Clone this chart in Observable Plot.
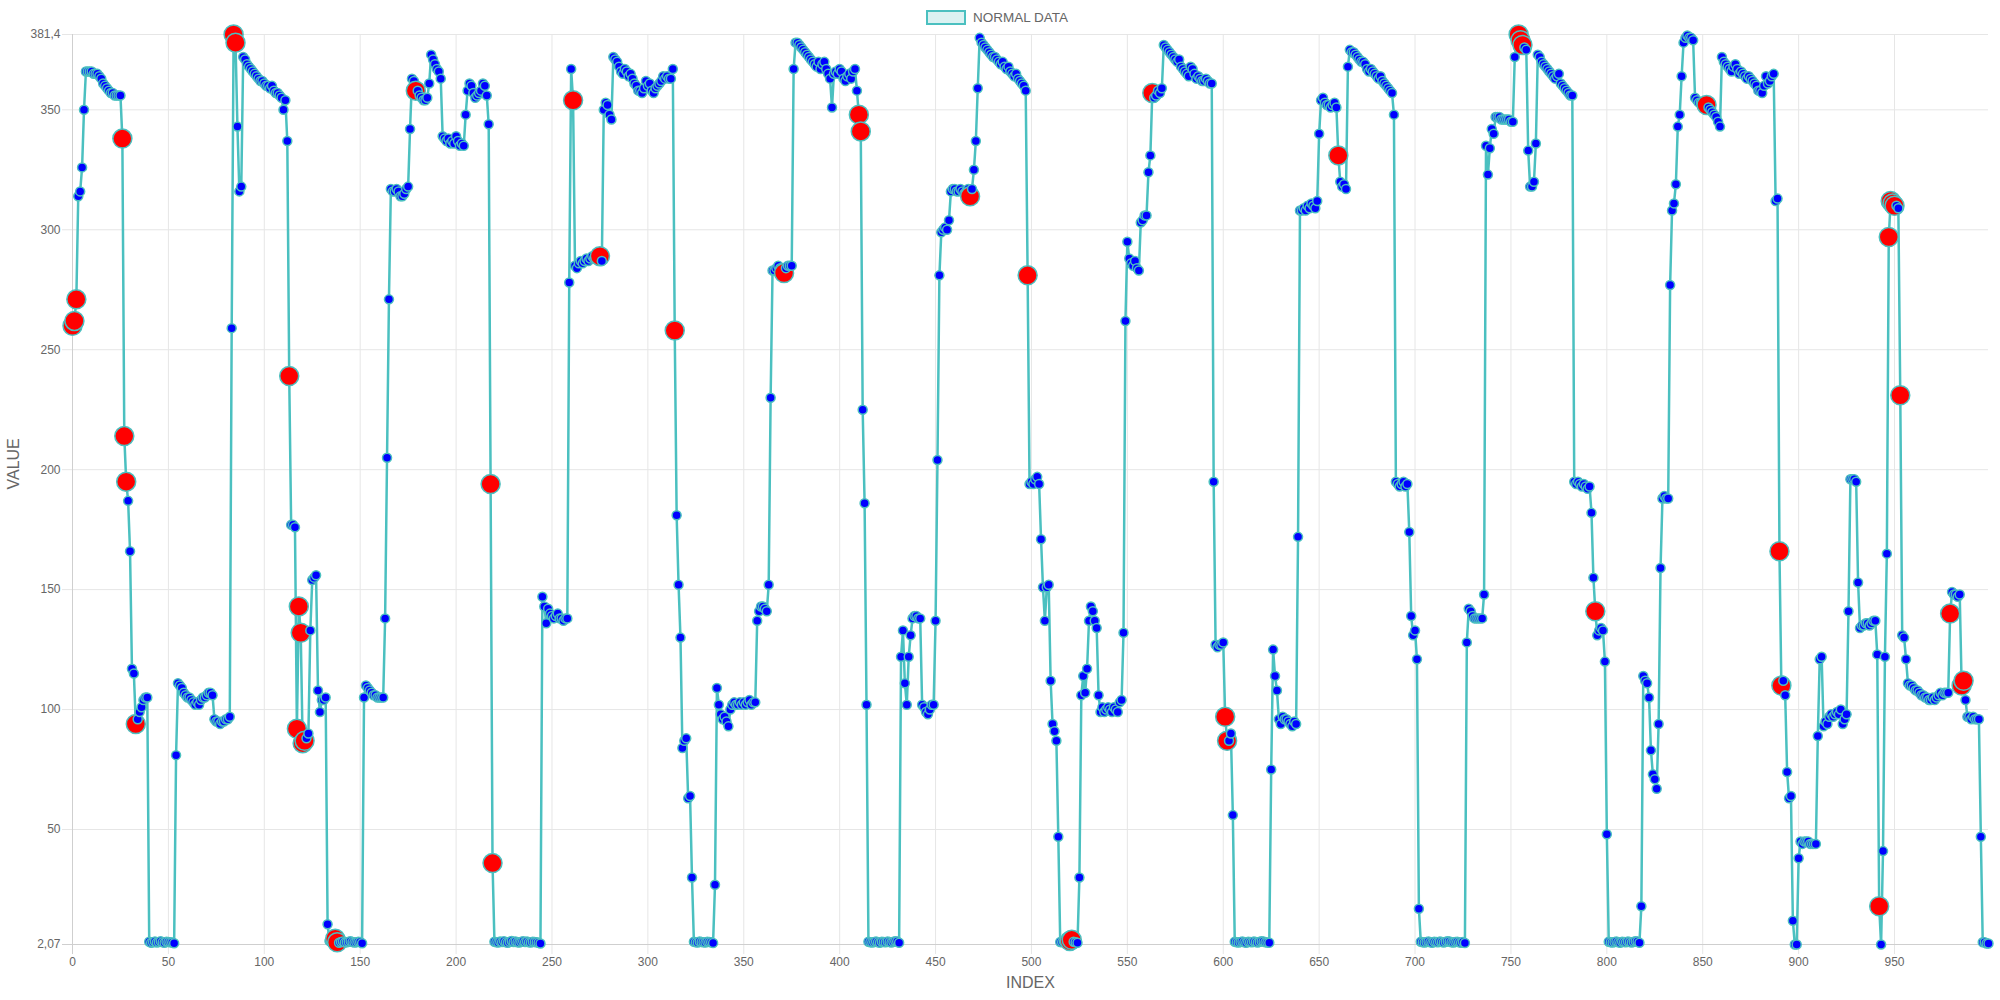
<!DOCTYPE html>
<html>
<head>
<meta charset="utf-8">
<script src="https://cdn.jsdelivr.net/npm/d3@7"></script>
<script src="https://cdn.jsdelivr.net/npm/@observablehq/plot@0.6"></script>
<style>
  html, body { margin: 0; padding: 0; background: #fff; overflow: hidden; }
  #wrap { position: relative; width: 2000px; height: 1000px; font-family: "Liberation Sans", Arial, Helvetica, sans-serif; }
  #legend { position: absolute; left: 926px; top: 9px; height: 16px; display: flex; align-items: center; color: #666; font-size: 13.5px; }
  #legend .box { width: 40px; height: 15px; box-sizing: border-box; border: 2.5px solid rgb(75,192,192); background: rgba(75,192,192,0.2); margin-right: 7px; }
  #chart { position: absolute; left: 0; top: 0; }
</style>
</head>
<body>
<div id="wrap">
  <div id="chart"></div>
  <div id="legend"><div class="box"></div><span>NORMAL DATA</span></div>
</div>
<script>
// ---- data ----
const v000 = [260, 262, 271, 314, 316, 326, 350, 366, 366, 366,
 366, 365, 365, 365, 364, 363, 361, 360, 359, 358,
 357, 357, 356, 356, 356, 356, 338, 214, 195, 187,
 166, 117, 115, 94, 96, 99, 101, 104, 105, 105,
 3.2, 2.8, 3.0, 3.3, 2.9, 3.1, 3.4, 3.0, 2.8, 3.2,
 3.1, 3.0, 2.9, 2.6, 81, 111, 110, 109, 107, 106,
 105, 105, 104, 103, 102, 103, 102, 104, 105, 105,
 106, 107, 107, 106, 96, 95, 95, 94, 95, 95,
 96, 96, 97, 259, 381.4, 378, 343, 316, 318, 372,
 371, 369, 368, 367, 366, 365, 364, 363, 362, 362];
const v100 = [361, 360, 360, 359, 360, 358, 357, 357, 356, 355,
 350, 354, 337, 239, 177, 177, 176, 92, 143, 132,
 86, 87, 88, 90, 133, 154, 155, 156, 108, 99,
 104, 104, 105, 10.5, 3.5, 3.0, 3.2, 4.5, 3.0, 2.8,
 3.1, 3.3, 2.9, 3.0, 3.2, 3.4, 3.1, 2.9, 3.0, 3.2,
 3.1, 2.6, 105, 110, 109, 108, 107, 106, 106, 105,
 105, 105, 105, 138, 205, 271, 317, 316, 316, 317,
 316, 314, 314, 315, 317, 318, 342, 363, 362, 358,
 358, 356, 355, 354, 354, 355, 361, 373, 371, 369,
 367, 366, 363, 339, 338, 337, 338, 336, 337, 336];
const v200 = [339, 337, 335, 336, 335, 348, 358, 361, 360, 357,
 355, 356, 357, 358, 361, 360, 356, 344, 194, 36,
 3.2, 3.0, 2.9, 3.3, 3.1, 3.4, 3.0, 2.8, 3.2, 3.5,
 3.1, 3.3, 3.0, 2.9, 3.2, 3.4, 3.1, 3.3, 3.0, 2.9,
 3.2, 3.1, 3.0, 2.8, 2.5, 147, 143, 136, 142, 140,
 139, 138, 139, 140, 138, 138, 137, 138, 138, 278,
 367, 354, 285, 284, 286, 287, 286, 287, 288, 287,
 288, 289, 288, 288, 289, 289, 287, 350, 353, 352,
 348, 346, 372, 371, 370, 368, 366, 365, 367, 366,
 364, 365, 363, 361, 360, 358, 358, 357, 359, 362];
const v300 = [360, 361, 358, 357, 359, 360, 361, 362, 364, 363,
 364, 363, 363, 367, 258, 181, 152, 130, 84, 87,
 88, 63, 64, 30, 3.2, 3.0, 2.9, 3.3, 3.1, 3.0,
 2.9, 3.2, 3.1, 3.0, 2.7, 27, 109, 102, 98, 96,
 97, 95, 93, 100, 102, 103, 102, 102, 103, 102,
 103, 102, 103, 104, 102, 103, 103, 137, 141, 143,
 143, 142, 141, 152, 230, 283, 283, 284, 285, 284,
 283, 282, 284, 285, 285, 285, 367, 378, 378, 377,
 376, 375, 374, 373, 372, 371, 370, 369, 368, 370,
 367, 369, 370, 367, 365, 363, 351, 365, 366, 365];
const v400 = [367, 366, 363, 362, 364, 365, 363, 366, 367, 358,
 348, 341, 225, 186, 102, 3.2, 3.0, 2.9, 3.1, 3.3,
 3.0, 2.8, 3.2, 3.1, 3.0, 3.3, 3.1, 2.9, 3.2, 3.4,
 3.3, 2.8, 122, 133, 111, 102, 122, 131, 138, 139,
 139, 138, 138, 102, 101, 99, 98, 100, 102, 102,
 137, 204, 281, 299, 300, 301, 300, 304, 316, 317,
 317, 316, 316, 317, 316, 315, 316, 317, 314, 317,
 325, 337, 359, 380, 378, 377, 376, 375, 374, 373,
 372, 372, 371, 370, 369, 370, 368, 367, 368, 366,
 365, 364, 365, 363, 362, 361, 360, 358, 281, 194];
const v500 = [195, 194, 196, 197, 194, 171, 151, 137, 151, 152,
 112, 94, 91, 87, 47, 3.1, 3.0, 3.2, 2.9, 3.1,
 3.5, 4.0, 3.2, 3.0, 2.8, 30, 106, 114, 107, 117,
 137, 143, 141, 137, 134, 106, 99, 101, 99, 100,
 101, 100, 99, 101, 100, 99, 103, 104, 132, 262,
 295, 288, 286, 285, 287, 284, 283, 303, 304, 306,
 306, 324, 331, 357, 355, 356, 358, 357, 359, 377,
 376, 375, 374, 373, 372, 371, 370, 371, 368, 367,
 366, 365, 364, 368, 367, 365, 363, 364, 363, 362,
 362, 363, 362, 361, 361, 195, 127, 126, 127, 127];
const v600 = [128, 97, 87, 87, 90, 56, 3.2, 3.0, 2.9, 3.1,
 3.3, 3.0, 2.8, 3.2, 3.1, 3.0, 3.3, 3.1, 2.9, 3.2,
 3.4, 3.3, 3.0, 2.9, 2.8, 75, 125, 114, 108, 96,
 94, 97, 96, 96, 95, 94, 93, 95, 94, 172,
 308, 308, 309, 308, 310, 309, 311, 310, 309, 312,
 340, 354, 355, 353, 352, 352, 351, 352, 353, 351,
 331, 320, 318, 319, 317, 368, 375, 374, 374, 373,
 372, 371, 370, 370, 369, 367, 366, 367, 366, 365,
 364, 363, 364, 362, 361, 360, 359, 358, 357, 348,
 195, 194, 193, 194, 195, 193, 194, 174, 139, 131];
const v700 = [133, 121, 17, 3.2, 3.0, 2.9, 3.1, 3.3, 3.0, 2.8,
 3.2, 3.1, 3.0, 3.3, 3.1, 2.9, 3.2, 3.4, 3.3, 3.0,
 2.9, 3.1, 3.2, 3.0, 2.8, 3.1, 2.7, 128, 142, 141,
 139, 138, 138, 138, 138, 138, 148, 335, 323, 334,
 342, 340, 347, 347, 347, 346, 346, 346, 346, 346,
 345, 345, 372, 378, 381.4, 379, 377, 376, 375, 333,
 318, 318, 320, 336, 373, 372, 370, 369, 368, 367,
 366, 365, 364, 363, 364, 365, 361, 360, 359, 358,
 357, 356, 356, 195, 194, 195, 194, 193, 194, 193,
 192, 193, 182, 155, 141, 131, 133, 134, 133, 120];
const v800 = [48, 3.2, 3.0, 2.9, 3.1, 3.3, 3.0, 2.8, 3.2, 3.1,
 3.0, 3.3, 3.1, 2.9, 3.2, 3.4, 3.3, 2.8, 18, 114,
 112, 111, 105, 83, 73, 71, 67, 94, 159, 188,
 189, 188, 188, 277, 308, 311, 319, 343, 348, 364,
 378, 380, 381, 380, 380, 379, 355, 354, 353, 353,
 352, 352, 352, 351, 350, 349, 348, 347, 345, 343,
 372, 370, 369, 368, 367, 366, 368, 369, 367, 365,
 366, 365, 364, 363, 364, 363, 362, 361, 360, 358,
 358, 357, 360, 364, 361, 362, 364, 365, 312, 313,
 166, 110, 112, 106, 74, 63, 64, 12, 2.07, 2.07];
const v900 = [38, 45, 44, 45, 45, 45, 44, 44, 44, 44,
 89, 121, 122, 93, 95, 94, 97, 98, 97, 98,
 99, 98, 100, 94, 96, 98, 141, 196, 196, 196,
 195, 153, 134, 135, 135, 136, 136, 135, 136, 137,
 137, 123, 18, 2.07, 41, 122, 165, 297, 312, 311,
 310, 310, 309, 231, 131, 130, 121, 111, 110, 110,
 109, 108, 108, 107, 106, 106, 105, 105, 104, 104,
 105, 104, 105, 106, 107, 106, 107, 107, 107, 140,
 149, 148, 148, 147, 148, 110, 112, 104, 97, 97,
 96, 97, 96, 96, 96, 47, 3, 3, 2.5, 2.5];

const anomalyIndex = [0,1,2,26,27,28,33,84,85,113,117,118,119,120,121,137,138,179,218,219,
  261,275,314,371,410,411,468,498,520,521,563,601,602,660,754,755,756,794,852,890,891,
  942,947,948,949,950,953,979,985,986];

const xTicks = [0,50,100,150,200,250,300,350,400,450,500,550,600,650,700,750,800,850,900,950];
const xTickLabels = xTicks.map(String);
const yTicks = [2.07, 50, 100, 150, 200, 250, 300, 350, 381.4];
const yTickLabels = ["2,07", "50", "100", "150", "200", "250", "300", "350", "381,4"];
const xDomain = [0, 999];
const yDomain = [2.07, 381.4];

// ---- build ----
const values = [...v000, ...v100, ...v200, ...v300, ...v400, ...v500, ...v600, ...v700, ...v800, ...v900];
const anomalySet = new Set(anomalyIndex);
const data = values.map((v, i) => ({i, v, a: anomalySet.has(i)}));

const teal = "rgb(75,192,192)";
const grid = "#e6e6e6";
const gridDark = "#cfcfcf";

const chart = Plot.plot({
  width: 2000,
  height: 1000,
  marginTop: 34,
  marginBottom: 56,
  marginLeft: 72,
  marginRight: 12,
  style: {fontFamily: "'Liberation Sans', Arial, Helvetica, sans-serif", fontSize: "12px", color: "#666", background: "transparent"},
  x: {domain: xDomain},
  y: {domain: yDomain},
  r: {type: "identity"},
  color: {type: "identity"},
  marks: [
    Plot.ruleY(yTicks.filter(d => d !== 2.07), {y: d => d, stroke: grid, strokeWidth: 1, insetLeft: -10}),
    Plot.ruleX(xTicks.filter(d => d !== 0), {x: d => d, stroke: grid, strokeWidth: 1, insetBottom: -10}),
    Plot.ruleY([2.07], {y: d => d, stroke: gridDark, strokeWidth: 1, insetLeft: -10}),
    Plot.ruleX([0], {x: d => d, stroke: gridDark, strokeWidth: 1, insetBottom: -10}),
    Plot.axisX(xTicks, {tickSize: 0, tickPadding: 13, fontSize: 12, fill: "#666", label: null,
      tickFormat: d => xTickLabels[xTicks.indexOf(d)]}),
    Plot.axisY(yTicks, {tickSize: 0, tickPadding: 12, fontSize: 12, fill: "#666", label: null,
      tickFormat: d => yTickLabels[yTicks.indexOf(d)]}),
    Plot.line(data, {x: "i", y: "v", stroke: teal, strokeWidth: 2.5}),
    Plot.dot(data, {x: "i", y: "v", r: d => d.a ? 9.5 : 4.5, fill: d => d.a ? "#ff0000" : "#0000ff",
      stroke: teal, strokeWidth: 1.5, sort: null}),
    Plot.text(["VALUE"], {frameAnchor: "left", dx: -59, rotate: -90, fontSize: 16, fill: "#666"}),
    Plot.text(["INDEX"], {frameAnchor: "bottom", dy: 43, fontSize: 16, fill: "#666"})
  ]
});
document.getElementById("chart").appendChild(chart);
</script>
</body>
</html>
